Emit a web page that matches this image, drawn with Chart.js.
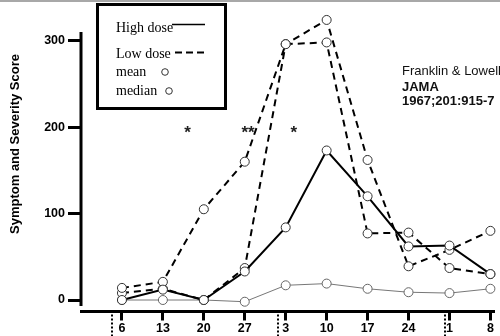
<!DOCTYPE html>
<html><head><meta charset="utf-8">
<script src="https://cdn.jsdelivr.net/npm/chart.js@4"></script>
<style>html,body{margin:0;padding:0;background:#fff}canvas{display:block}</style>
</head><body>
<canvas id="c" width="500" height="336"></canvas>
<script>
const weekLabels = ['6','13','20','27','3','10','17','24','1','8'];
const highDoseMean = [0, 12, 0, 33, 84, 173, 120, 62, 63, 30];
const highDoseMedian = [0, 0, 0, -2, 17, 19, 13, 9, 8, 13];
const lowDoseMean = [14, 21, 105, 160, 296, 298, 77, 78, 37, 30];
const lowDoseMedian = [8, 13, 0, 37, 296, 324, 162, 39, 58, 80];
const yTickValues = [0, 100, 200, 300];
const yAxisSpan = [-7, 310];
const monthBreaks = [-0.25, 3.8, 7.9];
const significance = [{at: 1.6, text: '*'}, {at: 3.08, text: '**'}, {at: 4.2, text: '*'}];
const yTitle = 'Symptom and Severity Score';
const citation = ['Franklin & Lowell', 'JAMA', '1967;201:915-7'];

const toXY = arr => arr.map((v, i) => ({x: i, y: v}));
const SANS = '"Liberation Sans", Arial, sans-serif';
const SERIF = '"Liberation Serif", "Times New Roman", serif';

const deco = {
  id: 'deco',
  beforeDraw(chart) {
    const ctx = chart.ctx;
    ctx.save();
    ctx.fillStyle = '#fff';
    ctx.fillRect(0, 0, chart.width, chart.height);
    ctx.fillStyle = '#a8a8a8';
    ctx.fillRect(0, 0, chart.width, 2);
    ctx.restore();
  },
  afterDraw(chart) {
    const {ctx, chartArea, scales: {x, y}} = chart;
    ctx.save();
    // y axis line
    ctx.strokeStyle = '#000';
    ctx.lineWidth = 3;
    ctx.beginPath();
    ctx.moveTo(chartArea.left, y.getPixelForValue(yAxisSpan[1]));
    ctx.lineTo(chartArea.left, y.getPixelForValue(yAxisSpan[0]));
    ctx.stroke();
    // month separators
    ctx.lineWidth = 2;
    ctx.setLineDash([2, 2]);
    monthBreaks.forEach(b => {
      const px = Math.round(x.getPixelForValue(b));
      ctx.beginPath();
      ctx.moveTo(px, chartArea.bottom + 3);
      ctx.lineTo(px, chart.height);
      ctx.stroke();
    });
    ctx.setLineDash([]);
    // significance marks
    ctx.fillStyle = '#222';
    ctx.font = 'bold 17px ' + SANS;
    ctx.textAlign = 'center';
    ctx.textBaseline = 'alphabetic';
    significance.forEach(s => {
      ctx.fillText(s.text, x.getPixelForValue(s.at), y.getPixelForValue(187));
    });
    // legend box
    ctx.textAlign = 'left';
    ctx.strokeStyle = '#000';
    ctx.lineWidth = 3;
    ctx.strokeRect(97.5, 4.5, 128, 104);
    ctx.fillStyle = '#000';
    ctx.font = '14px ' + SERIF;
    ctx.fillText('High dose', 116, 31.5);
    ctx.fillText('Low dose', 116, 57.5);
    ctx.fillText('mean', 116, 76);
    ctx.fillText('median', 116, 94.5);
    ctx.lineWidth = 1.3;
    ctx.beginPath(); ctx.moveTo(172, 24.5); ctx.lineTo(205, 24.5); ctx.stroke();
    ctx.lineWidth = 2;
    ctx.setLineDash([7, 4]);
    ctx.beginPath(); ctx.moveTo(175, 52.5); ctx.lineTo(207, 52.5); ctx.stroke();
    ctx.setLineDash([]);
    ctx.lineWidth = 1;
    ctx.strokeStyle = '#333';
    ctx.beginPath(); ctx.arc(165, 72, 3.3, 0, Math.PI * 2); ctx.stroke();
    ctx.beginPath(); ctx.arc(169, 91, 3.3, 0, Math.PI * 2); ctx.stroke();
    // citation
    ctx.fillStyle = '#111';
    ctx.font = '13px ' + SANS;
    ctx.fillText(citation[0], 402, 75);
    ctx.font = 'bold 13px ' + SANS;
    ctx.fillText(citation[1], 402, 90.7);
    ctx.fillText(citation[2], 402, 105.2);
    // y title
    ctx.translate(15, 144);
    ctx.rotate(-Math.PI / 2);
    ctx.textAlign = 'center';
    ctx.textBaseline = 'middle';
    ctx.fillStyle = '#000';
    ctx.font = 'bold 13px ' + SANS;
    ctx.fillText(yTitle, 0, 0);
    ctx.restore();
  }
};

const pointStyle = {
  pointRadius: 4.5,
  pointBorderWidth: 1,
  pointBackgroundColor: '#fff',
  pointBorderColor: '#333',
  tension: 0,
  fill: false,
  clip: false
};

new Chart(document.getElementById('c'), {
  type: 'line',
  data: {
    datasets: [
      Object.assign({label: 'High dose mean', data: toXY(highDoseMean), borderColor: '#000', borderWidth: 2, order: 1}, pointStyle),
      Object.assign({label: 'Low dose mean', data: toXY(lowDoseMean), borderColor: '#000', borderWidth: 2, borderDash: [7, 5], order: 2}, pointStyle),
      Object.assign({label: 'Low dose median', data: toXY(lowDoseMedian), borderColor: '#000', borderWidth: 2, borderDash: [7, 5], order: 3}, pointStyle),
      Object.assign({}, pointStyle, {label: 'High dose median', data: toXY(highDoseMedian), borderColor: '#777', borderWidth: 1, pointBorderColor: '#666', order: 4})
    ]
  },
  options: {
    responsive: false,
    animation: false,
    devicePixelRatio: 1,
    events: [],
    layout: {padding: {top: 12, right: 2, left: 0, bottom: 0}},
    plugins: {legend: {display: false}, tooltip: {enabled: false}},
    scales: {
      x: {
        type: 'linear', min: -1, max: 9.1,
        afterBuildTicks: s => { s.ticks = weekLabels.map((_, i) => ({value: i})); },
        afterFit: s => { s.height = 24.5; },
        ticks: {
          callback: v => (weekLabels[v] !== undefined ? weekLabels[v] : ''),
          font: {family: SANS, size: 12.5, weight: 'bold'},
          color: '#000', padding: 1, maxRotation: 0, autoSkip: false
        },
        grid: {drawOnChartArea: false, drawTicks: true, tickLength: 9, tickWidth: 3, tickColor: '#000'},
        border: {display: true, color: '#000', width: 3}
      },
      y: {
        type: 'linear', min: -13.3, max: 333.2,
        afterBuildTicks: s => { s.ticks = yTickValues.map(v => ({value: v})); },
        afterFit: s => { s.width = 81; },
        ticks: {font: {family: SANS, size: 12.5, weight: 'bold'}, color: '#000', padding: 3},
        grid: {drawOnChartArea: false, drawTicks: true, tickLength: 13, tickWidth: 3, tickColor: '#000'},
        border: {display: false}
      }
    }
  },
  plugins: [deco]
});
</script>
</body></html>
